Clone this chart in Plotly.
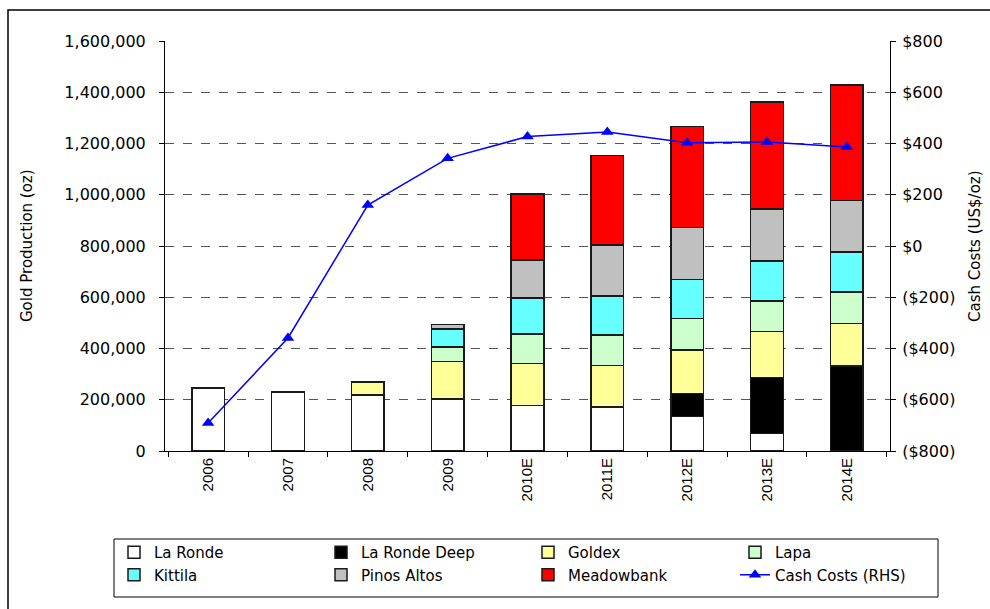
import plotly.graph_objects as go

years = ["2006", "2007", "2008", "2009", "2010E", "2011E", "2012E", "2013E", "2014E"]
la_ronde = [246000, 230000, 218000, 203000, 177000, 172000, 135000, 69000, None]
la_ronde_deep = [None, None, None, None, None, None, 90000, 217000, 332000]
goldex = [None, None, 51000, 147000, 164000, 162000, 170000, 181000, 166000]
lapa = [None, None, None, 56000, 116000, 118000, 123000, 118000, 122000]
kittila = [None, None, None, 71000, 141000, 153000, 152000, 156000, 157000]
pinos_altos = [None, None, None, 16000, 147000, 198000, 203000, 203000, 200000]
meadowbank = [None, None, None, None, 257000, 351000, 393000, 418000, 451000]
cash_costs = [-691, -359, 160, 342, 427, 445, 403, 406, 386]

y2_vals = [-800, -600, -400, -200, 0, 200, 400, 600, 800]
y2_text = ["($800)", "($600)", "($400)", "($200)", "$0", "$200", "$400", "$600", "$800"]

series = [
    ("La Ronde", la_ronde, "#FFFFFF"),
    ("La Ronde Deep", la_ronde_deep, "#000000"),
    ("Goldex", goldex, "#FFFF99"),
    ("Lapa", lapa, "#CCFFCC"),
    ("Kittila", kittila, "#66FFFF"),
    ("Pinos Altos", pinos_altos, "#C0C0C0"),
    ("Meadowbank", meadowbank, "#FF0000"),
]

fig = go.Figure()
for name, vals, col in series:
    fig.add_trace(go.Bar(
        x=years, y=vals, name=name,
        marker=dict(color=col, line=dict(color="#1a1a1a", width=1.5)),
    ))

fig.add_trace(go.Scatter(
    x=years, y=cash_costs, name="Cash Costs (RHS)", yaxis="y2",
    mode="lines+markers",
    line=dict(color="#0000FF", width=1.5),
    marker=dict(symbol="triangle-up", size=11, color="#0000FF"),
))

tick_font = dict(family="DejaVu Sans", size=16, color="#000000")

W, L, T, H = 725, 165, 41, 410

fig.update_layout(
    width=990, height=609,
    margin=dict(l=165, r=100, t=41, b=158, autoexpand=False),
    paper_bgcolor="white", plot_bgcolor="white",
    barmode="stack", bargap=0.59,
    showlegend=True,
    legend=dict(
        orientation="h", x=(114 - L) / W, y=(451 - 536) / H, xanchor="left", yanchor="top",
        traceorder="normal",
        entrywidth=162, entrywidthmode="pixels",
        borderwidth=0, bgcolor="rgba(0,0,0,0)",
        font=dict(family="DejaVu Sans", size=15, color="#000000"),
        tracegroupgap=0,
    ),
    xaxis=dict(
        type="category", showline=True, linecolor="#000000", linewidth=1,
        ticks="outside", ticklen=5, tickcolor="#000000", tickson="boundaries",
        tickangle=-90, tickfont=dict(family="Liberation Sans", size=15, color="#000000"),
        showgrid=False,
    ),
    yaxis=dict(
        range=[0, 1600000], dtick=200000, tickformat=",d",
        showline=True, linecolor="#000000", linewidth=1,
        ticks="outside", ticklen=5, tickcolor="#000000",
        ticklabelstandoff=10,
        showgrid=True, gridcolor="#555555", gridwidth=1, griddash="dash",
        zeroline=False, tickfont=tick_font,
    ),
    yaxis2=dict(
        overlaying="y", side="right", range=[-800, 800],
        tickvals=y2_vals, ticktext=y2_text,
        showline=True, linecolor="#000000", linewidth=1,
        ticks="outside", ticklen=5, tickcolor="#000000",
        ticklabelstandoff=3,
        showgrid=False, zeroline=False, tickfont=tick_font,
    ),
    annotations=[
        dict(text="Gold Production (oz)", xref="paper", yref="paper",
             x=(27 - L) / W, y=0.5, textangle=-90, showarrow=False,
             xanchor="center", yanchor="middle",
             font=dict(family="DejaVu Sans", size=15, color="#000000")),
        dict(text="Cash Costs (US$/oz)", xref="paper", yref="paper",
             x=(975 - L) / W, y=0.5, textangle=-90, showarrow=False,
             xanchor="center", yanchor="middle",
             font=dict(family="DejaVu Sans", size=15, color="#000000")),
    ],
    shapes=[
        dict(type="rect", xref="paper", yref="paper",
             x0=(8 - L) / W, x1=1.3, y0=-0.5, y1=1 + 31 / H,
             line=dict(color="#000000", width=1.5), fillcolor="rgba(0,0,0,0)",
             layer="below"),
        dict(type="rect", xref="paper", yref="paper",
             x0=(114 - L) / W, x1=(938 - L) / W, y0=(451 - 597) / H, y1=(451 - 539) / H,
             line=dict(color="#000000", width=1), fillcolor="rgba(0,0,0,0)",
             layer="below"),
    ],
)

fig.write_html("out.html")
